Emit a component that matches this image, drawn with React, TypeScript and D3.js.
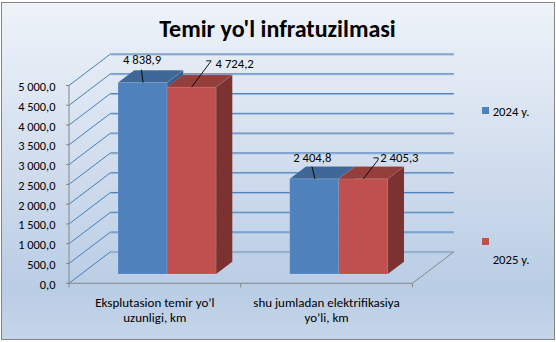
import React from "react";
import * as d3 from "d3";

const categories = ["Eksplutasion temir yo’l|uzunligi, km", "shu jumladan elektrifikasiya|yo’li, km"];
const seriesNames = ["2024 y.", "2025 y."];
const values2024 = [4838.9, 2404.8];
const values2025 = [4724.2, 2405.3];
const yTicks = [0, 500, 1000, 1500, 2000, 2500, 3000, 3500, 4000, 4500, 5000];

const W = 556, H = 342;
const FONT = "Carlito, Calibri, Lato, sans-serif";
const FS = 12.7;

// layout
const frontLeft = 69, frontRight = 412.4, frontBase = 283.3, frontTop = 85.5;
const DX = 41.5, DY = -31.5; // wall depth offset
const T1 = 0.295, T2 = 0.685; // bar depth range

const colors = {
  front: ["#4F81BD", "#C0504D"],
  top: ["#3F6797", "#953F3C"],
  side: ["#3A5F8E", "#7C3230"],
};

// label offsets (relative to bar front-top-center)
const labelLayout = [
  [{ tx: -0.5, ty: -23, anchor: "middle", lead: [[-1.2, -13], [0.5, 0]] }, { tx: 24, ty: -24, anchor: "start", lead: [[14.6, -26.3], [19.6, -26.3], [19.6, -26.3], [0, 0]] }],
  [{ tx: -2, ty: -21, anchor: "middle", lead: [[-2.3, -12.3], [0.7, 0]] }, { tx: 17, ty: -21, anchor: "start", lead: [[10, -21], [14.8, -21], [14.8, -19], [0, 0]] }],
];

const fmt = d3.formatLocale({ decimal: ",", thousands: " ", grouping: [3], currency: ["", ""] }).format(",.1f");

export default function App() {
  const x = d3.scaleBand<string>().domain(categories).range([frontLeft, frontRight]).paddingInner(0).paddingOuter(0);
  const inner = d3.scaleBand<string>().domain(seriesNames).range([0, x.bandwidth()]).paddingInner(0).paddingOuter(0.75);
  const yH = d3.scaleLinear().domain([0, 5000]).range([0, frontBase - frontTop]);
  const yFront = (v: number) => frontBase - yH(v);
  const series = [values2024, values2025];

  const bars: React.ReactNode[] = [];
  const labels: React.ReactNode[] = [];
  categories.forEach((c, ci) => {
    seriesNames.forEach((s, si) => {
      const v = series[si][ci];
      const x0 = (x(c) as number) + (inner(s) as number) + DX * T1;
      const x1 = x0 + inner.bandwidth();
      const yb = frontBase + DY * T1;
      const yt = yb - yH(v);
      const ddx = DX * (T2 - T1), ddy = DY * (T2 - T1);
      const p = (pts: number[][]) => pts.map((q) => q.join(",")).join(" ");
      bars.push(
        <g key={`b${ci}${si}`}>
          <polygon points={p([[x0, yb], [x1, yb], [x1, yt], [x0, yt]])} fill={colors.front[si]} stroke="rgba(255,255,255,0.18)" strokeWidth={0.6} />
          <polygon points={p([[x0, yt], [x1, yt], [x1 + ddx, yt + ddy], [x0 + ddx, yt + ddy]])} fill={colors.top[si]} stroke="rgba(255,255,255,0.15)" strokeWidth={0.6} />
          <polygon points={p([[x1, yb], [x1 + ddx, yb + ddy], [x1 + ddx, yt + ddy], [x1, yt]])} fill={colors.side[si]} stroke="rgba(255,255,255,0.12)" strokeWidth={0.6} />
        </g>
      );
      const cx = (x0 + x1) / 2;
      const L = labelLayout[ci][si];
      const pts = L.lead.map(([a, b]) => [cx + a, yt + b]);
      labels.push(
        <g key={`l${ci}${si}`}>
          <polyline points={pts.map((q) => q.join(",")).join(" ")} fill="none" stroke="#000" strokeWidth={0.9} />
          <text x={cx + L.tx} y={yt + L.ty} textAnchor={L.anchor} dominantBaseline="central" fontFamily={FONT} fontSize={FS} fill="#000">
            {fmt(v)}
          </text>
        </g>
      );
    });
  });

  return (
    <svg width={W} height={H} style={{ position: "absolute", left: 0, top: 0 }}>
      <defs>
        <linearGradient id="bg" x1="0" y1="0" x2="0" y2="1">
          <stop offset="0" stopColor="#EEF3F9" />
          <stop offset="0.5" stopColor="#D0DCED" />
          <stop offset="0.85" stopColor="#B9CDE5" />
          <stop offset="1" stopColor="#C6D5E9" />
        </linearGradient>
      </defs>
      <rect x={0} y={0} width={W} height={H} fill="#fff" />
      <rect x={1.5} y={2.5} width={553} height={337} fill="url(#bg)" stroke="#868686" strokeWidth={1} />
      <text x={277.5} y={28} textAnchor="middle" dominantBaseline="central" fontFamily={FONT} fontWeight="bold" fontSize={24} fill="#000">
        Temir yo'l infratuzilmasi
      </text>

      {/* walls gridlines */}
      {yTicks.map((t) => {
        const yf = yFront(t);
        const yb = yf + DY;
        return (
          <g key={`g${t}`}>
            <line x1={frontLeft + DX} x2={frontRight + DX} y1={yb + 1} y2={yb + 1} stroke="#9DBADD" strokeWidth={1} />
            <line x1={frontLeft + DX} x2={frontRight + DX} y1={yb} y2={yb} stroke={t === 0 ? "#7F9CC0" : "#4A7EBB"} strokeWidth={1} />
            <line x1={frontLeft} x2={frontLeft + DX} y1={yf} y2={yb} stroke="#4A7EBB" strokeWidth={1} />
            <line x1={frontLeft - 3} x2={frontLeft} y1={yf} y2={yf} stroke="#868686" strokeWidth={1} />
            <text x={55.5} y={yf + 1} textAnchor="end" dominantBaseline="central" fontFamily={FONT} fontSize={12.4} fill="#000">
              {fmt(t)}
            </text>
          </g>
        );
      })}
      {/* floor edges and axis */}
      <line x1={frontLeft} x2={frontLeft} y1={frontTop} y2={frontBase} stroke="#868686" strokeWidth={1} />
      <line x1={frontLeft} x2={frontRight} y1={frontBase} y2={frontBase} stroke="#868686" strokeWidth={1} />
      <line x1={frontRight} x2={frontRight + DX} y1={frontBase} y2={frontBase + DY} stroke="#868686" strokeWidth={1} />
      {[...categories.map((c) => x(c) as number), frontRight].map((xx, i) => (
        <line key={`ct${i}`} x1={xx} x2={xx} y1={frontBase} y2={frontBase + 4} stroke="#868686" strokeWidth={1} />
      ))}
      {bars}
      {labels}
      {categories.map((c) => {
        const cx = (x(c) as number) + x.bandwidth() / 2;
        return c.split("|").map((ln, i) => (
          <text key={`${c}${i}`} x={cx} y={302 + i * 15} textAnchor="middle" dominantBaseline="central" fontFamily={FONT} fontSize={13} fill="#000">
            {ln}
          </text>
        ));
      })}
      {/* legend */}
      {seriesNames.map((s, i) => {
        const sy = i === 0 ? 107 : 238;
        const ty = i === 0 ? 111 : 259.5;
        return (
          <g key={`lg${s}`}>
            <rect x={482} y={sy} width={7} height={7} fill={colors.front[i]} />
            <text x={492.7} y={ty} dominantBaseline="central" fontFamily={FONT} fontSize={FS} fill="#000">
              {s}
            </text>
          </g>
        );
      })}
    </svg>
  );
}
